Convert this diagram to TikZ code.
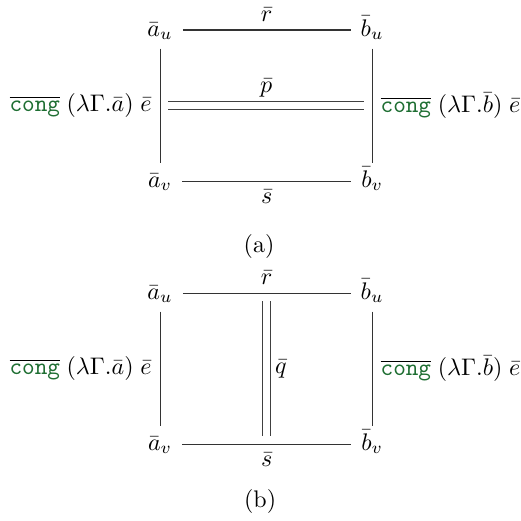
\documentclass[tikz,border=0pt]{standalone}
\usepackage{amsmath}
\definecolor{congcol}{RGB}{30,110,50}
\newcommand{\congbar}{\overline{\textcolor{congcol}{\mathtt{cong}}}}

\begin{document}
\begin{tikzpicture}[
    vertex/.style={
        inner xsep=4pt,
        inner ysep=3pt,
        text height=7pt,
        text depth=2pt
    },
    edge/.style={draw=black!80, line width=0.45pt},
    cell/.style={
        draw=black!75,
        double,
        double distance=3pt,
        shorten <=3.4pt,
        shorten >=3.4pt
    }
]
    \useasboundingbox (0,0) rectangle (7.62,-7.63);

    % (a)
    \node[vertex] (au) at (2.344,-0.44) {$\bar{a}_u$};
    \node[vertex] (bu) at (5.45,-0.44) {$\bar{b}_u$};
    \node[vertex] (av) at (2.344,-2.652) {$\bar{a}_v$};
    \node[vertex] (bv) at (5.45,-2.652) {$\bar{b}_v$};

    \draw[edge] (au) -- node[above] (rlab) {$\bar{r}$} (bu);
    \draw[edge] (av) -- node[below] (slab) {$\bar{s}$} (bv);
    \draw[edge] (au) -- node[left] (elab) {$\congbar\;(\lambda\Gamma.\bar{a})\;\bar{e}$} (av);
    \draw[edge] (bu) -- node[right] (flab) {$\congbar\;(\lambda\Gamma.\bar{b})\;\bar{e}$} (bv);

    \path (au) -- coordinate (ml) (av);
    \path (bu) -- coordinate (mr) (bv);
    \draw[cell] (ml) -- node[above] (plab) {$\bar{p}$} (mr);

    \node (capa) at (3.794,-3.604) {(a)};

    % (b)
    \begin{scope}[yshift=-3.853cm]
        \node[vertex] (au2) at (2.344,-0.44) {$\bar{a}_u$};
        \node[vertex] (bu2) at (5.45,-0.44) {$\bar{b}_u$};
        \node[vertex] (av2) at (2.344,-2.652) {$\bar{a}_v$};
        \node[vertex] (bv2) at (5.45,-2.652) {$\bar{b}_v$};

        \draw[edge] (au2) -- node[above] (rlab2) {$\bar{r}$} (bu2);
        \draw[edge] (av2) -- node[below] (slab2) {$\bar{s}$} (bv2);
        \draw[edge] (au2) -- node[left] (elab2) {$\congbar\;(\lambda\Gamma.\bar{a})\;\bar{e}$} (av2);
        \draw[edge] (bu2) -- node[right] (flab2) {$\congbar\;(\lambda\Gamma.\bar{b})\;\bar{e}$} (bv2);

        \path (au2) -- coordinate (mt) (bu2);
        \path (av2) -- coordinate (mb) (bv2);
        \draw[cell] (mt) -- node[right] (qlab) {$\bar{q}$} (mb);
    \end{scope}

    \node (capb) at (3.809,-7.34) {(b)};
\end{tikzpicture}
\end{document}
